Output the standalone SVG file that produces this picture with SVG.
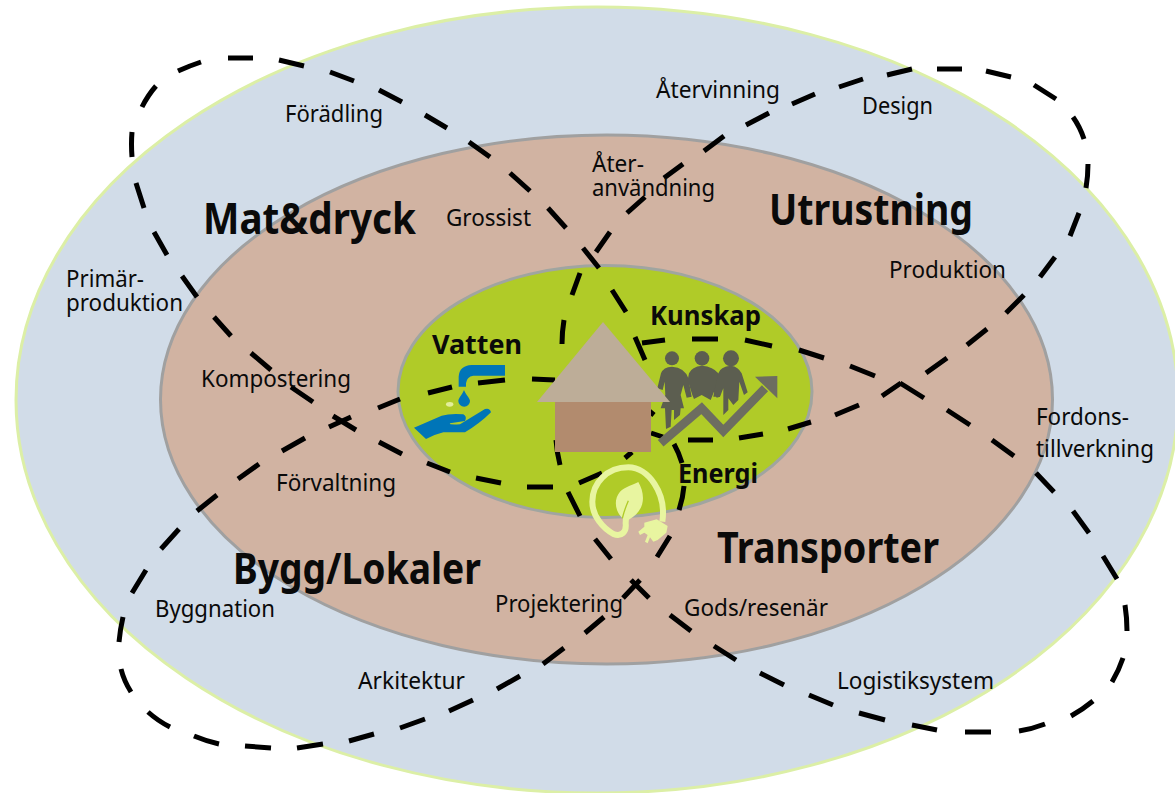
<svg xmlns="http://www.w3.org/2000/svg" width="1175" height="793" viewBox="0 0 1175 793">
<style>
text{font-family:"Noto Sans","Open Sans","Liberation Sans",sans-serif;fill:#0a0a0a}
.l{font-size:24px}
.m{font-size:27px;font-weight:700}
.b{font-size:43px;font-weight:700}
.d{fill:none;stroke:#000;stroke-width:5;stroke-linecap:butt}
.p{fill:#5c5e50}
.w{fill:#0075b8}
.e{fill:#e8f5a0}
</style>
<rect width="1175" height="793" fill="#fff"/>
<g id="ring-outer"><ellipse cx="597" cy="400" rx="581" ry="393" fill="#d1dce8" stroke="#dcefa6" stroke-width="3"/></g>
<g id="ring-middle"><ellipse cx="606.5" cy="399.5" rx="446" ry="264.500" fill="#d1b3a2" stroke="#a0a0a0" stroke-width="3"/></g>
<g id="ring-inner"><ellipse cx="605" cy="391.500" rx="207" ry="126" fill="#b0cb28" stroke="#a0a5a0" stroke-width="3"/></g>
<g id="connectors">
<path id="loop-mat" class="d" d="M142 107Q148 95 156 86M178 71Q189 66 201 62M228 58L253 58M279 60L304 66M330 72L354 81M379 90L402 102M425 115L447 128M469 142L490 157M510 173L530 191M548 208L566 228M583 248L599 268M612 290L626 312M635 337L645 360M648 410L654 415M632 452L625 458M602 473L579 483M553 487L527 487M501 483L476 478M450 472L427 463M402 454L379 442M356 430L333 416M313 402L291 387M271 370L251 353M231 336L214 317M197 297L182 276M167 255L154 232M144 208L136 183M132 157Q131 144 132 132"/>
<path id="loop-utrustning" class="d" d="M580 273L572 295M564 320Q562 332 562 344M596 252L610 232M627 213L645 197M664 178L683 164M704 151L724 136M746 125L769 113M792 104L815 94M839 87L863 79M887 75L912 69M937 69L962 69M986 71L1011 77M1034 85L1056 99M1073 117Q1080 127 1084 139M1088 164Q1088 176 1086 188M1079 213L1070 236M1055 257L1040 277M1024 295L1006 313M987 329L967 345M947 358L926 373M901 383L882 396M859 405L835 415M811 422L788 429M763 434L739 438M713 440L688 440M663 437L651 433"/>
<path id="loop-bygg" class="d" d="M555 380L532 379M505 380L478 383M452 387L428 393M400 399L378 408M351 417L329 427M305 438L282 451M259 464L238 479M217 495L197 511M179 529L161 549M146 570L132 593M123 617Q120 630 119 642M121 669Q124 681 131 692M148 712Q158 721 170 727M194 736Q206 741 219 744M245 746L271 748M297 748L323 744M349 741L374 734M400 728L425 719M449 711L473 700M497 689L520 676M543 664L564 648M585 633L604 617M623 598L640 580M657 557L670 536M679 510Q683 498 684 486M682 463Q679 453 674 444"/>
<path id="loop-transporter" class="d" d="M642 343L665 340M692 339L718 339M745 340L772 346M799 350L824 358M850 366L875 376M900 383L924 398M947 410L970 425M992 440L1014 456M1036 473L1054 492M1073 511L1089 533M1103 556L1117 579M1125 605Q1127 618 1127 631M1123 658Q1119 670 1112 682M1093 701Q1082 710 1071 716M1045 724Q1032 729 1019 731M991 732L965 732M937 730L912 725M885 720L859 713M833 705L809 695M784 685L760 673M736 660L714 646M691 631L670 615M649 598L631 580M611 559L595 539M580 516L568 492M560 465Q557 453 556 440"/>
</g>
<g id="icon-vatten" transform="translate(410 355) scale(.3333)">
<path class="w" d="M285 30H185Q148 32 146 65V95H168V85Q170 65 190 62H285Z"/>
<path class="w" d="M162 105C155 122 145 130 145 138A17 17 0 0 0 180 138C180 130 169 122 162 105Z"/>
<ellipse cx="119" cy="148" rx="11" ry="7" fill="#e3ee9a"/>
<path class="w" d="M12 218L95 182Q120 175 160 178Q172 185 165 198L120 205Q115 210 150 208L225 162Q240 158 243 172Q210 205 165 232L100 232Q75 238 48 252Z"/>
</g>
<g id="icon-kunskap" transform="translate(650 345) scale(.3333)">
<circle class="p" cx="66" cy="40" r="21"/>
<circle class="p" cx="156" cy="40" r="22"/>
<circle class="p" cx="243" cy="40" r="24"/>
<path class="p" d="M66 65Q40 66 33 85L22 130L38 135L44 110L46 150L32 190H102L92 150L100 120L110 158L125 155L115 100Q105 68 66 65ZM45 190L48 252L62 245L65 195H72L72 225L90 210L92 190Z"/>
<path class="p" d="M156 62Q125 65 117 85L113 105L127 150L132 162L155 150L182 165L192 140L200 158L210 155L215 105L205 85Q190 65 156 62Z"/>
<path class="p" d="M243 62Q210 65 205 85L195 130L190 155L210 155L220 130L220 210L235 195L235 160L250 180L265 165L268 110L282 150L293 142L275 85Q265 65 243 62Z"/>
<path d="M32 295L155 190L220 258L345 130" fill="none" stroke="#6d6d60" stroke-width="26"/>
<polygon points="315,95 382,93 382,160" fill="#6d6d60"/>
</g>
<g id="house">
<polygon points="537,402 603,322 670,402" fill="#bdad98"/>
<rect x="555" y="402" width="96" height="50" fill="#b28b6e"/>
</g>
<g id="icon-energi" transform="translate(585 460) scale(.3333)">
<path d="M232 185C245 100 190 22 130 22C65 22 22 70 22 125C22 170 55 205 85 222C110 232 125 215 122 190L125 130" fill="none" stroke="#e8f5a0" stroke-width="18"/>
<path class="e" d="M160 66C180 100 185 150 130 180L128 185C95 170 80 125 105 95C120 80 145 75 160 66Z"/>
<path d="M130 122Q118 150 112 175" fill="none" stroke="#b0cb28" stroke-width="4"/>
<polygon class="e" points="178,188 215,178 248,198 244,218 218,240 205,245 195,232 188,250 180,245 188,225 178,218 165,225 160,215 178,200"/>
</g>
<g id="labels">
<text class="l" x="285" y="122" textLength="98" lengthAdjust="spacingAndGlyphs">Förädling</text>
<text class="l" x="66" y="287" textLength="78" lengthAdjust="spacingAndGlyphs">Primär-</text>
<text class="l" x="66" y="311" textLength="117" lengthAdjust="spacingAndGlyphs">produktion</text>
<text class="b" x="203" y="234" textLength="213" lengthAdjust="spacingAndGlyphs">Mat&amp;dryck</text>
<text class="l" x="446" y="226" textLength="85" lengthAdjust="spacingAndGlyphs">Grossist</text>
<text class="l" x="201" y="387" textLength="150" lengthAdjust="spacingAndGlyphs">Kompostering</text>
<text class="m" x="432" y="354" textLength="90" lengthAdjust="spacingAndGlyphs">Vatten</text>
<text class="m" x="650" y="325" textLength="111" lengthAdjust="spacingAndGlyphs">Kunskap</text>
<text class="m" x="678" y="483" textLength="80" lengthAdjust="spacingAndGlyphs">Energi</text>
<text class="l" x="592" y="172" textLength="52" lengthAdjust="spacingAndGlyphs">Åter-</text>
<text class="l" x="592" y="196" textLength="123" lengthAdjust="spacingAndGlyphs">användning</text>
<text class="l" x="656" y="98" textLength="124" lengthAdjust="spacingAndGlyphs">Återvinning</text>
<text class="l" x="862" y="114" textLength="71" lengthAdjust="spacingAndGlyphs">Design</text>
<text class="b" x="769" y="225" textLength="204" lengthAdjust="spacingAndGlyphs">Utrustning</text>
<text class="l" x="889" y="278" textLength="117" lengthAdjust="spacingAndGlyphs">Produktion</text>
<text class="l" x="276" y="491" textLength="120" lengthAdjust="spacingAndGlyphs">Förvaltning</text>
<text class="b" x="233" y="584" textLength="248" lengthAdjust="spacingAndGlyphs">Bygg/Lokaler</text>
<text class="l" x="155" y="617" textLength="120" lengthAdjust="spacingAndGlyphs">Byggnation</text>
<text class="l" x="358" y="689" textLength="107" lengthAdjust="spacingAndGlyphs">Arkitektur</text>
<text class="l" x="495" y="612" textLength="128" lengthAdjust="spacingAndGlyphs">Projektering</text>
<text class="b" x="717" y="563" textLength="222" lengthAdjust="spacingAndGlyphs">Transporter</text>
<text class="l" x="684" y="616" textLength="144" lengthAdjust="spacingAndGlyphs">Gods/resenär</text>
<text class="l" x="1036" y="425" textLength="93" lengthAdjust="spacingAndGlyphs">Fordons-</text>
<text class="l" x="1036" y="457" textLength="118" lengthAdjust="spacingAndGlyphs">tillverkning</text>
<text class="l" x="837" y="689" textLength="157" lengthAdjust="spacingAndGlyphs">Logistiksystem</text>
</g>
</svg>
